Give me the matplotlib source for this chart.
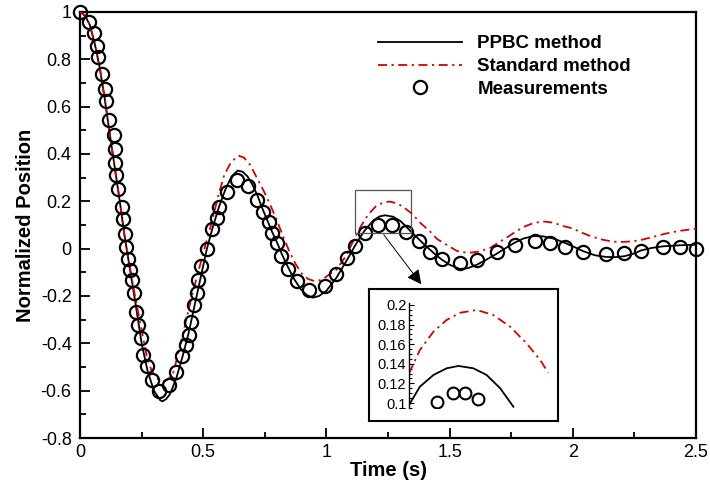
import matplotlib
matplotlib.use('Agg')
from matplotlib import pyplot as plt
from matplotlib.patches import Rectangle
from matplotlib.ticker import MultipleLocator

plt.rcParams['font.family'] = ['Liberation Sans', 'DejaVu Sans']

# PPBC method (solid)
t_ppbc = [0.00, 0.02, 0.04, 0.06, 0.08, 0.10, 0.12, 0.14, 0.16, 0.18, 0.20,
          0.225, 0.25, 0.275, 0.30, 0.325, 0.335, 0.35, 0.365, 0.39, 0.415,
          0.44, 0.465, 0.49, 0.515, 0.54, 0.565, 0.59, 0.615, 0.64, 0.66,
          0.68, 0.70, 0.72, 0.74, 0.76, 0.78, 0.80, 0.82, 0.845, 0.87, 0.895,
          0.92, 0.945, 0.97, 1.00, 1.04, 1.085, 1.116, 1.136, 1.157, 1.19,
          1.215, 1.238, 1.27, 1.30, 1.32, 1.345, 1.373, 1.40, 1.42, 1.445,
          1.468, 1.50, 1.542, 1.575, 1.61, 1.65, 1.69, 1.73, 1.765, 1.80,
          1.84, 1.88, 1.92, 1.96, 2.00, 2.043, 2.09, 2.135, 2.17, 2.209,
          2.25, 2.276, 2.32, 2.367, 2.43, 2.50]
y_ppbc = [1.000, 0.985, 0.945, 0.865, 0.765, 0.635, 0.490, 0.350, 0.210, 0.060, -0.070,
          -0.230, -0.400, -0.520, -0.600, -0.640, -0.645, -0.635, -0.615, -0.550, -0.460,
          -0.360, -0.240, -0.120, 0.000, 0.095, 0.180, 0.250, 0.305, 0.330, 0.325,
          0.305, 0.270, 0.225, 0.170, 0.120, 0.070, 0.025, -0.025, -0.080, -0.130, -0.170,
          -0.196, -0.207, -0.200, -0.178, -0.124, -0.045, 0.012, 0.047, 0.079, 0.119,
          0.136, 0.141, 0.135, 0.117, 0.097, 0.070, 0.042, 0.015, -0.004, -0.027,
          -0.046, -0.068, -0.086, -0.082, -0.068, -0.046, -0.022, 0.004, 0.026, 0.043,
          0.053, 0.052, 0.043, 0.028, 0.010, -0.011, -0.028, -0.035, -0.036, -0.032,
          -0.020, -0.008, 0.003, 0.010, 0.014, 0.017]

# Standard method (dash-dot)
t_std = [0.00, 0.02, 0.04, 0.06, 0.08, 0.10, 0.12, 0.14, 0.16, 0.18, 0.20,
         0.225, 0.25, 0.27, 0.29, 0.315, 0.34, 0.36, 0.38, 0.40, 0.42, 0.44,
         0.46, 0.487, 0.51, 0.534, 0.56, 0.585, 0.61, 0.635, 0.645, 0.665,
         0.69, 0.715, 0.745, 0.77, 0.80, 0.825, 0.85, 0.875, 0.90, 0.925,
         0.955, 0.985, 1.01, 1.04, 1.08, 1.11, 1.14, 1.17, 1.20, 1.23, 1.258,
         1.29, 1.32, 1.35, 1.38, 1.42, 1.45, 1.49, 1.53, 1.576, 1.62, 1.664,
         1.71, 1.76, 1.80, 1.84, 1.88, 1.92, 1.96, 2.00, 2.04, 2.08, 2.12,
         2.16, 2.19, 2.23, 2.27, 2.32, 2.37, 2.43, 2.50]
y_std = [1.000, 0.985, 0.945, 0.865, 0.765, 0.635, 0.490, 0.350, 0.210, 0.060, -0.065,
         -0.210, -0.345, -0.450, -0.515, -0.550, -0.562, -0.550, -0.520, -0.435, -0.350, -0.260,
         -0.175, -0.070, 0.020, 0.108, 0.220, 0.310, 0.360, 0.388, 0.392, 0.385,
         0.355, 0.305, 0.245, 0.190, 0.117, 0.050, -0.013, -0.065, -0.105, -0.128,
         -0.138, -0.130, -0.110, -0.090, -0.030, 0.035, 0.095, 0.145, 0.178, 0.195, 0.199,
         0.190, 0.170, 0.145, 0.110, 0.073, 0.040, 0.015, -0.010, -0.018, -0.012, 0.003,
         0.033, 0.066, 0.092, 0.108, 0.115, 0.110, 0.096, 0.085, 0.066, 0.050, 0.038,
         0.030, 0.028, 0.030, 0.035, 0.048, 0.062, 0.075, 0.084]

# Measurements (circles)
t_meas = [0.000, 0.037, 0.055, 0.069, 0.075, 0.091, 0.100, 0.107, 0.118, 0.137,
          0.141, 0.144, 0.148, 0.156, 0.170, 0.175, 0.181, 0.187, 0.193, 0.203,
          0.211, 0.220, 0.228, 0.235, 0.246, 0.254, 0.271, 0.293, 0.320, 0.360,
          0.389, 0.413, 0.430, 0.442, 0.450, 0.463, 0.475, 0.480, 0.492, 0.515,
          0.535, 0.555, 0.564, 0.595, 0.636, 0.683, 0.717, 0.741, 0.766, 0.781,
          0.800, 0.817, 0.844, 0.879, 0.931, 0.994, 1.039, 1.085, 1.116, 1.157,
          1.209, 1.268, 1.325, 1.374, 1.420, 1.468, 1.541, 1.610, 1.692, 1.765,
          1.845, 1.907, 1.970, 2.043, 2.133, 2.207, 2.278, 2.367, 2.435, 2.500]
y_meas = [1.000, 0.958, 0.910, 0.858, 0.810, 0.738, 0.675, 0.622, 0.544, 0.482,
          0.422, 0.362, 0.310, 0.254, 0.177, 0.127, 0.061, 0.008, -0.045, -0.090,
          -0.134, -0.188, -0.269, -0.323, -0.377, -0.451, -0.497, -0.554, -0.601, -0.578,
          -0.521, -0.454, -0.405, -0.363, -0.311, -0.238, -0.188, -0.133, -0.074, -0.003,
          0.084, 0.130, 0.178, 0.238, 0.291, 0.266, 0.207, 0.154, 0.112, 0.068,
          0.025, -0.031, -0.084, -0.138, -0.173, -0.156, -0.105, -0.039, 0.013, 0.066,
          0.101, 0.101, 0.070, 0.031, -0.015, -0.045, -0.062, -0.046, -0.014, 0.017,
          0.031, 0.025, 0.005, -0.014, -0.023, -0.020, -0.008, 0.005, 0.007, -0.001]

# inset (zoomed peak)
t_in_ppbc = [1.150, 1.173, 1.202, 1.230, 1.255, 1.287, 1.315, 1.344, 1.372]
y_in_ppbc = [0.0980, 0.1166, 0.1286, 0.1354, 0.1378, 0.1354, 0.1286, 0.1150, 0.0962]
t_in_std = [1.150, 1.173, 1.202, 1.230, 1.259, 1.294, 1.329, 1.365, 1.400, 1.429, 1.446]
y_in_std = [0.1303, 0.1540, 0.1728, 0.1847, 0.1921, 0.1949, 0.1898, 0.1779, 0.1609, 0.1439, 0.1309]
t_in_meas = [1.210, 1.244, 1.269, 1.297]
y_in_meas = [0.1007, 0.1100, 0.1100, 0.1040]

red = '#d80000'
dashdot = (0, (5, 2.5, 1.2, 2.5))

fig = plt.figure(figsize=(7.1, 4.87), dpi=100)
ax = fig.add_axes([0.1127, 0.1006, 0.8676, 0.8748])

ax.plot(t_ppbc, y_ppbc, color='k', lw=1.3, label='PPBC method', zorder=2)
ax.plot(t_std, y_std, color=red, lw=1.3, linestyle=dashdot, label='Standard method', zorder=3)
ax.plot(t_meas, y_meas, 'o', mfc='none', mec='k', ms=9.5, mew=1.6,
        label='Measurements', zorder=4, clip_on=False)

ax.set_xlim(0, 2.5)
ax.set_ylim(-0.8, 1.0)
ax.xaxis.set_major_locator(MultipleLocator(0.5))
ax.xaxis.set_minor_locator(MultipleLocator(0.25))
ax.yaxis.set_major_locator(MultipleLocator(0.2))
ax.yaxis.set_minor_locator(MultipleLocator(0.1))
ax.set_xticks([0, 0.5, 1, 1.5, 2, 2.5])
ax.set_xticklabels(['0', '0.5', '1', '1.5', '2', '2.5'])
ax.set_yticks([-0.8, -0.6, -0.4, -0.2, 0, 0.2, 0.4, 0.6, 0.8, 1.0])
ax.set_yticklabels(['-0.8', '-0.6', '-0.4', '-0.2', '0', '0.2', '0.4', '0.6', '0.8', '1'])
ax.tick_params(which='both', direction='in', top=False, right=False, labelsize=13, width=1.3)
ax.tick_params(which='major', length=7)
ax.tick_params(which='minor', length=4)
ax.tick_params(axis='y', pad=6)
ax.tick_params(axis='x', pad=4)
for s in ax.spines.values():
    s.set_linewidth(1.6)

ax.set_xlabel('Time (s)', fontsize=14.5, fontweight='bold', labelpad=0)
ax.set_ylabel('Normalized Position', fontsize=14.5, fontweight='bold', labelpad=4)

leg = ax.legend(loc='upper left', bbox_to_anchor=(378 / 710, 1 - 35 / 487),
                bbox_transform=fig.transFigure, frameon=False, numpoints=1,
                prop={'weight': 'bold', 'size': 13.5}, handlelength=4.5,
                handletextpad=0.8, labelspacing=0.31, borderpad=0, borderaxespad=0)

# zoom rectangle and arrow
ax.add_patch(Rectangle((1.115, 0.068), 0.228, 0.181, fill=False, ec='#555555', lw=0.9, zorder=5))
ax.annotate('', xy=(1.392, -0.160), xytext=(1.226, 0.068),
            arrowprops=dict(arrowstyle='-|>', color='k', lw=0.7, mutation_scale=22), zorder=5)

# inset
box = fig.add_axes([0.5197, 0.1355, 0.2662, 0.2710])
box.set_xticks([])
box.set_yticks([])
for s in box.spines.values():
    s.set_linewidth(1.5)

ins = fig.add_axes([0.5761, 0.1624, 0.1986, 0.2144])
ins.patch.set_alpha(0)
ins.plot(t_in_ppbc, y_in_ppbc, color='k', lw=1.3)
ins.plot(t_in_std, y_in_std, color=red, lw=1.3, linestyle=dashdot)
ins.plot(t_in_meas, y_in_meas, 'o', mfc='none', mec='k', ms=8.5, mew=1.5)
ins.set_xlim(1.15, 1.45)
ins.set_ylim(0.095, 0.2015)
ins.set_yticks([0.1, 0.12, 0.14, 0.16, 0.18, 0.2])
ins.set_yticklabels(['0.1', '0.12', '0.14', '0.16', '0.18', '0.2'])
ins.yaxis.set_minor_locator(MultipleLocator(0.005))
ins.set_xticks([])
for k in ['top', 'right', 'bottom']:
    ins.spines[k].set_visible(False)
ins.spines['left'].set_linewidth(1.0)
ins.tick_params(which='both', direction='in', labelsize=10.5, pad=2, width=0.8)
ins.tick_params(which='major', length=3.5)
ins.tick_params(which='minor', length=2)

plt.savefig('out.png', dpi=100)
